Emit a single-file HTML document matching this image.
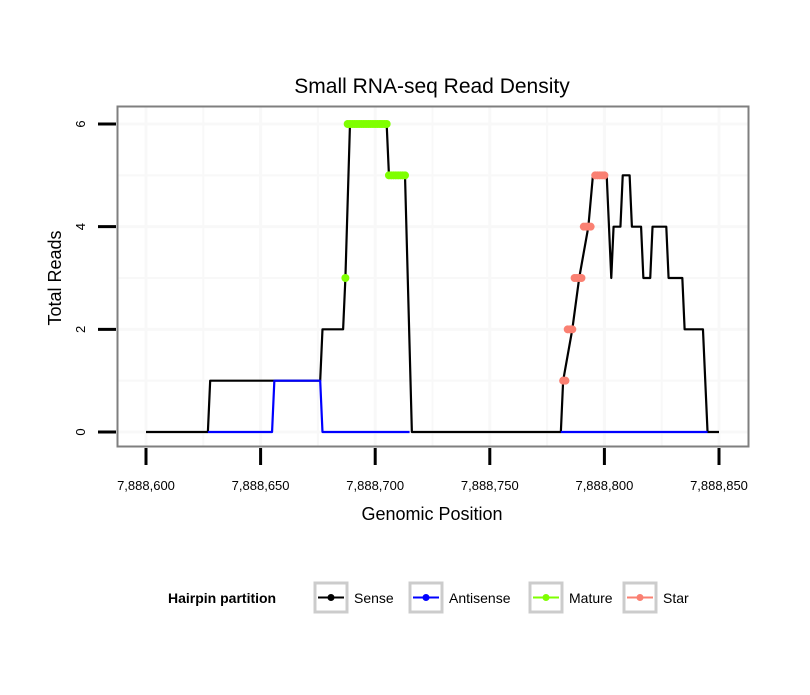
<!DOCTYPE html>
<html><head><meta charset="utf-8"><style>
body{margin:0;background:#fff}
svg text{font-family:"Liberation Sans",sans-serif}
</style></head><body>
<svg id="c" width="810" height="690" xmlns="http://www.w3.org/2000/svg">
<text x="432" y="93" font-size="21" text-anchor="middle">Small RNA-seq Read Density</text>
<g id="grid"></g>
<g id="series"></g>
<rect x="117.5" y="106.5" width="631" height="340" fill="none" stroke="#7f7f7f" stroke-width="2"/>
<g id="axes"></g>
<text x="432" y="520" font-size="18" text-anchor="middle">Genomic Position</text>
<text transform="translate(61,278) rotate(-90)" font-size="18" text-anchor="middle">Total Reads</text>
<g>
<text x="168" y="603" font-size="14" font-weight="bold">Hairpin partition</text>
<g><rect x="315" y="583" width="32" height="29" fill="#fff" stroke="#ccc" stroke-width="3"/><line x1="318" y1="597.5" x2="344" y2="597.5" stroke="#000" stroke-width="2"/><circle cx="331" cy="597.5" r="3.5" fill="#000"/><text x="354" y="603" font-size="14">Sense</text></g>
<g><rect x="410" y="583" width="32" height="29" fill="#fff" stroke="#ccc" stroke-width="3"/><line x1="413" y1="597.5" x2="439" y2="597.5" stroke="#00f" stroke-width="2"/><circle cx="426" cy="597.5" r="3.5" fill="#00f"/><text x="449" y="603" font-size="14">Antisense</text></g>
<g><rect x="530" y="583" width="32" height="29" fill="#fff" stroke="#ccc" stroke-width="3"/><line x1="533" y1="597.5" x2="559" y2="597.5" stroke="#7fff00" stroke-width="2"/><circle cx="546" cy="597.5" r="3.5" fill="#7fff00"/><text x="569" y="603" font-size="14">Mature</text></g>
<g><rect x="624" y="583" width="32" height="29" fill="#fff" stroke="#ccc" stroke-width="3"/><line x1="627" y1="597.5" x2="653" y2="597.5" stroke="#fa8072" stroke-width="2"/><circle cx="640" cy="597.5" r="3.5" fill="#fa8072"/><text x="663" y="603" font-size="14">Star</text></g>
</g>
</svg>
<script>
const xTicks = [7888600, 7888650, 7888700, 7888750, 7888800, 7888850];
const xTickLabels = ["7,888,600","7,888,650","7,888,700","7,888,750","7,888,800","7,888,850"];
const yTicks = [0, 2, 4, 6];
const base = 7888000;
const senseX = [600,627,628,676,677,686,687,689,705,706,713,716,781,782,786,789,793,795,801,803,804,807,808,811,812,816,817,820,821,827,828,834,835,843,845,850];
const senseY = [0,0,1,1,2,2,3,6,6,5,5,0,0,1,2,3,4,5,5,3,4,4,5,5,4,4,3,3,4,4,3,3,2,2,0,0];
const antiSeg1X = [627,655,656,676,677,715];
const antiSeg1Y = [0,0,1,1,0,0];
const antiSeg2X = [781,845];
const antiSeg2Y = [0,0];
const matureX = [687,688,689,690,691,692,693,694,695,696,697,698,699,700,701,702,703,704,705,706,707,708,709,710,711,712,713];
const matureY = [3,6,6,6,6,6,6,6,6,6,6,6,6,6,6,6,6,6,6,5,5,5,5,5,5,5,5];
const starX = [782,783,784,785,786,787,788,789,790,791,792,793,794,796,797,798,799,800];
const starY = [1,1,2,2,2,3,3,3,3,4,4,4,4,5,5,5,5,5];

const NS='http://www.w3.org/2000/svg';
const X = v => 146 + (v - 7888600) * 573 / 250;
const Y = v => 432 - v * 308 / 6;
function mk(tag, attrs, parent){const e=document.createElementNS(NS,tag);for(const k in attrs)e.setAttribute(k,attrs[k]);parent.appendChild(e);return e;}
const grid=document.getElementById('grid'), ser=document.getElementById('series'), axes=document.getElementById('axes');
mk('rect',{x:117,y:106,width:632,height:341,fill:'#fff'},grid);
for(let i=0;i<xTicks.length;i++){
  [xTicks[i], xTicks[i]+25].forEach((v,j)=>{ if(X(v)<749){const l=mk('line',{x1:X(v),x2:X(v),y1:107,y2:446,stroke:'#f8f8f8','stroke-width':j?2:3},grid);
  
  }});
  const t=mk('line',{x1:X(xTicks[i]),x2:X(xTicks[i]),y1:448,y2:465,stroke:'#000','stroke-width':3},axes);
  
  
  const tx=mk('text',{x:X(xTicks[i]),y:490,'font-size':13,'text-anchor':'middle'},axes);
  tx.textContent=xTickLabels[i];
  
  
}
for(let v=0;v<=6;v++){
  const l=mk('line',{x1:118,x2:748,y1:Y(v),y2:Y(v),stroke:'#f8f8f8','stroke-width':v%2?2:3},grid);
  
  
}
yTicks.forEach(v=>{
  const t=mk('line',{x1:98,x2:116,y1:Y(v),y2:Y(v),stroke:'#000','stroke-width':3},axes);
  
  
  const tx=mk('text',{transform:`translate(85,${Y(v)}) rotate(-90)`,'font-size':13,'text-anchor':'middle'},axes);
  tx.textContent=String(v);
  
  
});
function line(xs,ys,color,name){
  const d=xs.map((x,i)=>(i?'L':'M')+X(base+x)+','+Y(ys[i])).join(' ');
  const p=mk('path',{d:d,fill:'none',stroke:color,'stroke-width':2.2,'stroke-linejoin':'round'},ser);
  
  
}
function pts(xs,ys,color,name){
  xs.forEach((x,i)=>{const c=mk('circle',{cx:X(base+x),cy:Y(ys[i]),r:4,fill:color},ser);
  
  });
}
line(senseX,senseY,'#000','sense-line');
line(antiSeg1X,antiSeg1Y,'#0000ff','antisense-line');
line(antiSeg2X,antiSeg2Y,'#0000ff','antisense-line');
pts(matureX,matureY,'#7fff00','mature-point');
pts(starX,starY,'#fa8072','star-point');
</script>
</body></html>
